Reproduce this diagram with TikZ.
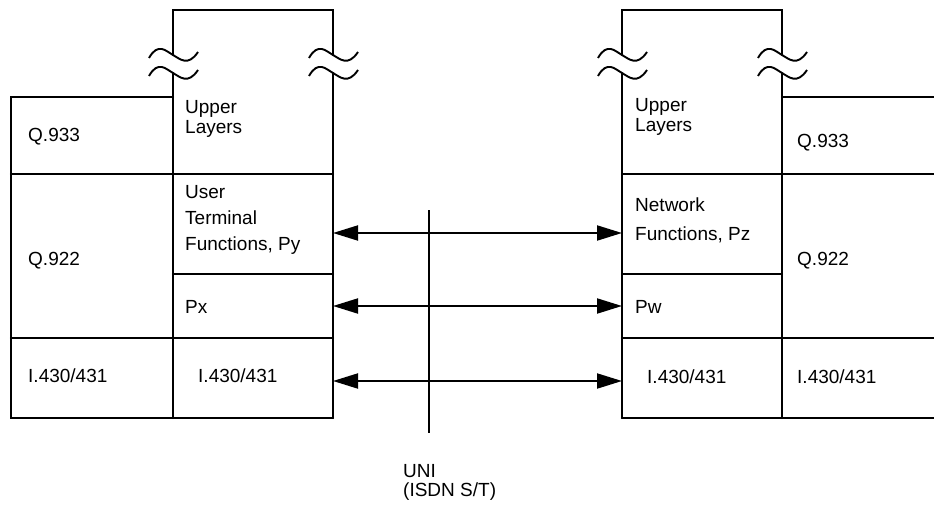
\documentclass[tikz,border=0pt]{standalone}
\usepackage{fontspec}
\setmainfont{Liberation Sans}
\usetikzlibrary{arrows.meta}
\begin{document}
\begin{tikzpicture}[x=1pt,y=-1pt,
  boxline/.style={line width=2.3pt, line cap=round},
  breakline/.style={line width=1.9pt},
  lbl/.style={inner sep=0pt, anchor=base west, font=\fontsize{19}{20}\selectfont},
  mlbl/.style={inner sep=0pt, anchor=north west, align=left, font=\fontsize{19}{20}\selectfont},
  biarrow/.style={line width=2pt, {Triangle[length=25pt,width=15pt]}-{Triangle[length=25pt,width=15pt]}},
  uniline/.style={line width=1.2pt}]
\useasboundingbox (0,0) rectangle (934,508);

% ---------- left stack (user side) ----------
\draw[boxline] (173,55) -- (173,10) -- (333,10) -- (333,55);
\draw[boxline] (173,73) -- (173,418);
\draw[boxline] (333,73) -- (333,418);
\draw[boxline] (173,97) -- (11,97) -- (11,418) -- (333,418);
\draw[boxline] (11,174) -- (333,174);
\draw[boxline] (173,274) -- (333,274);
\draw[boxline] (11,338) -- (333,338);

% ---------- right stack (network side) ----------
\draw[boxline] (622,55) -- (622,10) -- (782,10) -- (782,55);
\draw[boxline] (622,73) -- (622,418);
\draw[boxline] (782,73) -- (782,418);
\draw[boxline] (782,97) -- (934,97);
\draw[boxline] (622,174) -- (934,174);
\draw[boxline] (622,274) -- (782,274);
\draw[boxline] (622,338) -- (934,338);
\draw[boxline] (622,418) -- (934,418);

% ---------- break symbols ----------
\foreach \cx in {173,333,622,782}{
  \foreach \cy in {55,73}{
    \draw[breakline] (\cx-24,\cy+3) .. controls (\cx-15,\cy-13) and (\cx-7,\cy-4) .. (\cx,\cy)
                     .. controls (\cx+7,\cy+4) and (\cx+15,\cy+12) .. (\cx+25,\cy-3);
  }
}

% ---------- labels, left ----------
\node[lbl]  (lq933)  at (28,142) {Q.933};
\node[lbl]  (lq922)  at (28,265) {Q.922};
\node[lbl]  (li430a) at (28,382) {I.430/431};
\node[mlbl] (lupper) at (185,100) {Upper\\Layers};
\node[mlbl] (luser)  at (185,185) {User\\[6pt]Terminal\\[6pt]Functions, Py};
\node[lbl]  (lpx)    at (185,313) {Px};
\node[lbl]  (li430b) at (198,382) {I.430/431};

% ---------- labels, right ----------
\node[mlbl] (rupper) at (635,98) {Upper\\Layers};
\node[lbl]  (rq933)  at (797,147) {Q.933};
\node[mlbl] (rnet)   at (635,198) {Network\\[9pt]Functions, Pz};
\node[lbl]  (rq922)  at (797,265) {Q.922};
\node[lbl]  (rpw)    at (635,313) {Pw};
\node[lbl]  (ri430b) at (647,383) {I.430/431};
\node[lbl]  (ri430a) at (797,383) {I.430/431};

% ---------- interface ----------
\coordinate (unitop) at (429,210);
\coordinate (unibot) at (429,433);
\draw[uniline] (unitop) -- (unibot);
\node[lbl] (uni)  at (403,477) {UNI};
\node[lbl] (isdn) at (403,496) {(ISDN S/T)};

% ---------- peer arrows ----------
\coordinate (lpy) at (333,233);  \coordinate (rpz) at (622,233);
\coordinate (lpxe) at (333,306); \coordinate (rpwe) at (622,306);
\coordinate (lphy) at (333,381); \coordinate (rphy) at (622,381);
\draw[biarrow] (lpy) -- (rpz);
\draw[biarrow] (lpxe) -- (rpwe);
\draw[biarrow] (lphy) -- (rphy);
\end{tikzpicture}
\end{document}
